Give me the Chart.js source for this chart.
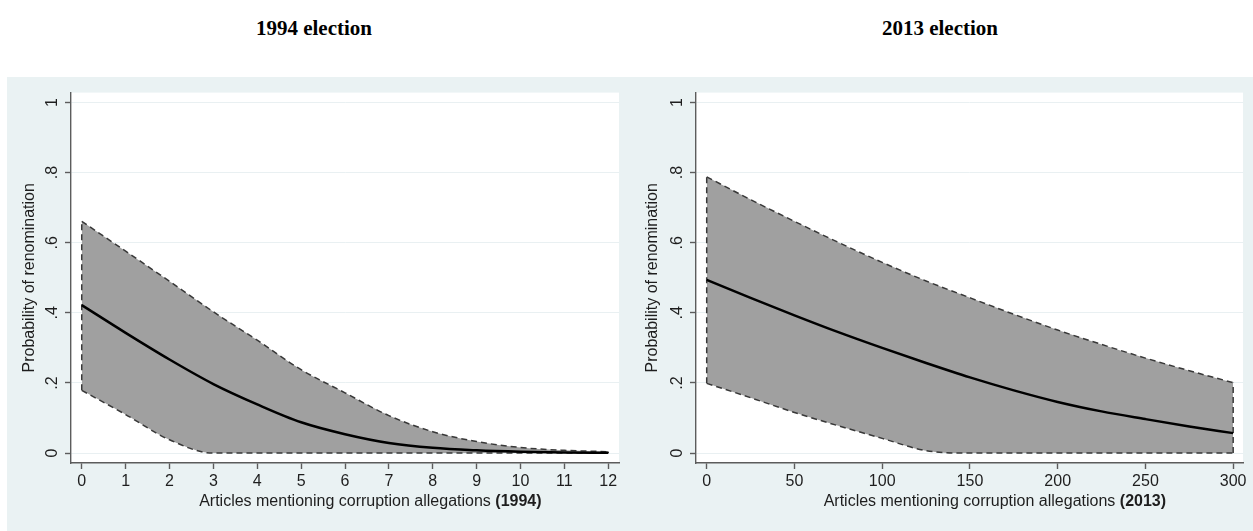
<!DOCTYPE html>
<html>
<head>
<meta charset="utf-8">
<script src="https://cdn.jsdelivr.net/npm/chart.js@4"></script>
<style>
  body { margin: 0; background: #fff; width: 1253px; height: 531px; position: relative; overflow: hidden; }
  .title { position: absolute; top: 16px; font: bold 21px "Liberation Serif", serif; color: #000; transform: translateX(-50%); white-space: nowrap; }
  #bg { position: absolute; left: 7px; top: 77px; width: 1246px; height: 454px; background: #EAF2F3; }
  canvas { position: absolute; top: 77px; }
</style>
</head>
<body>
<div class="title" style="left:314px">1994 election</div>
<div class="title" style="left:940px">2013 election</div>
<div id="bg"></div>
<canvas id="chart1994" width="623" height="454" style="left:7px"></canvas>
<canvas id="chart2013" width="623" height="454" style="left:630px"></canvas>
<script>
// y ticks shared by both panels
const yTicks = [0, 0.2, 0.4, 0.6, 0.8, 1];
const yTickLabels = ['0', '.2', '.4', '.6', '.8', '1'];

// 1994 election
const xs1994 = [0, 1, 2, 3, 4, 5, 6, 7, 8, 9, 10, 11, 12];
const mean1994 = [0.422, 0.343, 0.267, 0.197, 0.139, 0.088, 0.054, 0.029, 0.015, 0.008, 0.004, 0.002, 0.001];
const upper1994 = [0.661, 0.576, 0.49, 0.403, 0.322, 0.238, 0.172, 0.107, 0.061, 0.033, 0.016, 0.008, 0.004];
const lower1994 = [0.179, 0.11, 0.038, 0, 0, 0, 0, 0, 0, 0, 0, 0, 0];
const xTicks1994 = [0, 1, 2, 3, 4, 5, 6, 7, 8, 9, 10, 11, 12];

// 2013 election
const xs2013 = [0, 25, 50, 75, 100, 125, 150, 175, 200, 225, 250, 275, 300];
const mean2013 = [0.494, 0.443, 0.393, 0.345, 0.300, 0.257, 0.216, 0.179, 0.146, 0.119, 0.097, 0.076, 0.057];
const upper2013 = [0.788, 0.723, 0.661, 0.601, 0.544, 0.491, 0.443, 0.396, 0.351, 0.31, 0.271, 0.235, 0.201];
const lower2013 = [0.199, 0.158, 0.116, 0.078, 0.042, 0.007, 0, 0, 0, 0, 0, 0, 0];
const xTicks2013 = [0, 50, 100, 150, 200, 250, 300];

const axisColor = '#5c5c5c';
const textColor = '#1e1e1e';
const dashColor = '#383838';
const fontFamily = '"Liberation Sans", Arial, sans-serif';

// white plot region
const plotBgPlugin = {
    id: 'plotBg',
    beforeDraw(chart) {
        const a = chart.chartArea;
        const ctx = chart.ctx;
        ctx.save();
        ctx.fillStyle = '#fff';
        ctx.fillRect(a.left, a.top, a.right - a.left, a.bottom - a.top);
        ctx.restore();
    }
};

// x title with a bold year in brackets after it
const xTitlePlugin = {
    id: 'xTitle',
    afterDraw(chart, args, opts) {
        const ctx = chart.ctx;
        const area = chart.chartArea;
        const y = chart.scales.x.bottom - 29;
        ctx.save();
        ctx.fillStyle = textColor;
        ctx.textBaseline = 'middle';
        ctx.textAlign = 'left';
        ctx.font = '16px ' + fontFamily;
        const w = ctx.measureText(opts.text).width;
        const x0 = (area.left + area.right) / 2 - w / 2;
        ctx.fillText(opts.text, x0, y);
        const space = ctx.measureText(' ').width;
        ctx.font = 'bold 16px ' + fontFamily;
        ctx.fillText(opts.suffix, x0 + w + space, y);
        ctx.restore();
    }
};

function toPoints(xs, ys) {
    return xs.map((x, i) => ({ x, y: ys[i] }));
}

function makeChart(id, xs, mean, upper, lower, xTicks, xMin, xMax, yWidth, padRight, year) {
    const last = xs.length - 1;
    const dashed = {
        borderColor: dashColor,
        borderWidth: 1.5,
        borderDash: [6, 4],
        pointRadius: 0,
        fill: false,
    };
    new Chart(document.getElementById(id), {
        type: 'line',
        data: {
            datasets: [
                {
                    data: toPoints(xs, mean),
                    borderColor: '#000',
                    borderWidth: 2.5,
                    pointRadius: 0,
                    fill: false,
                    cubicInterpolationMode: 'monotone',
                },
                Object.assign({}, dashed, {
                    data: toPoints(xs, upper),
                    fill: '+1',
                    backgroundColor: '#A0A0A0',
                    cubicInterpolationMode: 'monotone',
                }),
                Object.assign({}, dashed, {
                    data: toPoints(xs, lower),
                    cubicInterpolationMode: 'monotone',
                }),
                Object.assign({}, dashed, {
                    data: [{ x: xs[0], y: lower[0] }, { x: xs[0], y: upper[0] }],
                }),
                Object.assign({}, dashed, {
                    data: [{ x: xs[last], y: lower[last] }, { x: xs[last], y: upper[last] }],
                }),
            ]
        },
        options: {
            responsive: false,
            animation: false,
            devicePixelRatio: 1,
            layout: { padding: { top: 11, right: padRight, bottom: 0, left: 0 } },
            plugins: {
                legend: { display: false },
                tooltip: { enabled: false },
                filler: { drawTime: 'beforeDatasetsDraw' },
                xTitle: { text: 'Articles mentioning corruption allegations', suffix: '(' + year + ')' },
            },
            scales: {
                x: {
                    type: 'linear',
                    min: xMin,
                    max: xMax,
                    afterBuildTicks: (scale) => { scale.ticks = xTicks.map(v => ({ value: v })); },
                    afterFit: (scale) => { scale.height = 68; },
                    border: { display: true, color: axisColor, width: 1.4 },
                    grid: { drawOnChartArea: false, drawTicks: true, tickLength: 6, tickColor: axisColor, tickWidth: 1.4 },
                    ticks: {
                        color: textColor,
                        padding: 3,
                        maxRotation: 0,
                        font: { family: fontFamily, size: 16 },
                        callback: (v) => String(v),
                    },
                },
                y: {
                    min: -0.0282,
                    max: 1.0282,
                    afterBuildTicks: (scale) => { scale.ticks = yTicks.map(v => ({ value: v })); },
                    afterFit: (scale) => { scale.width = yWidth; },
                    border: { display: true, color: axisColor, width: 1.4 },
                    grid: { color: '#E9F0F2', lineWidth: 1, drawTicks: true, tickLength: 6, tickColor: axisColor, tickWidth: 1.4 },
                    ticks: {
                        color: textColor,
                        padding: 6,
                        minRotation: 90,
                        maxRotation: 90,
                        crossAlign: 'center',
                        font: { family: fontFamily, size: 16 },
                        callback: (v, i) => yTickLabels[i],
                    },
                    title: {
                        display: true,
                        text: 'Probability of renomination',
                        color: textColor,
                        padding: { top: 13, bottom: 0 },
                        font: { family: fontFamily, size: 16 },
                    },
                },
            },
        },
        plugins: [plotBgPlugin, xTitlePlugin],
    });
}

makeChart('chart1994', xs1994, mean1994, upper1994, lower1994, xTicks1994, -0.245, 12.245, 64, 11, 1994);
makeChart('chart2013', xs2013, mean2013, upper2013, lower2013, xTicks2013, -6.1, 305.6, 66, 10, 2013);
</script>
</body>
</html>
